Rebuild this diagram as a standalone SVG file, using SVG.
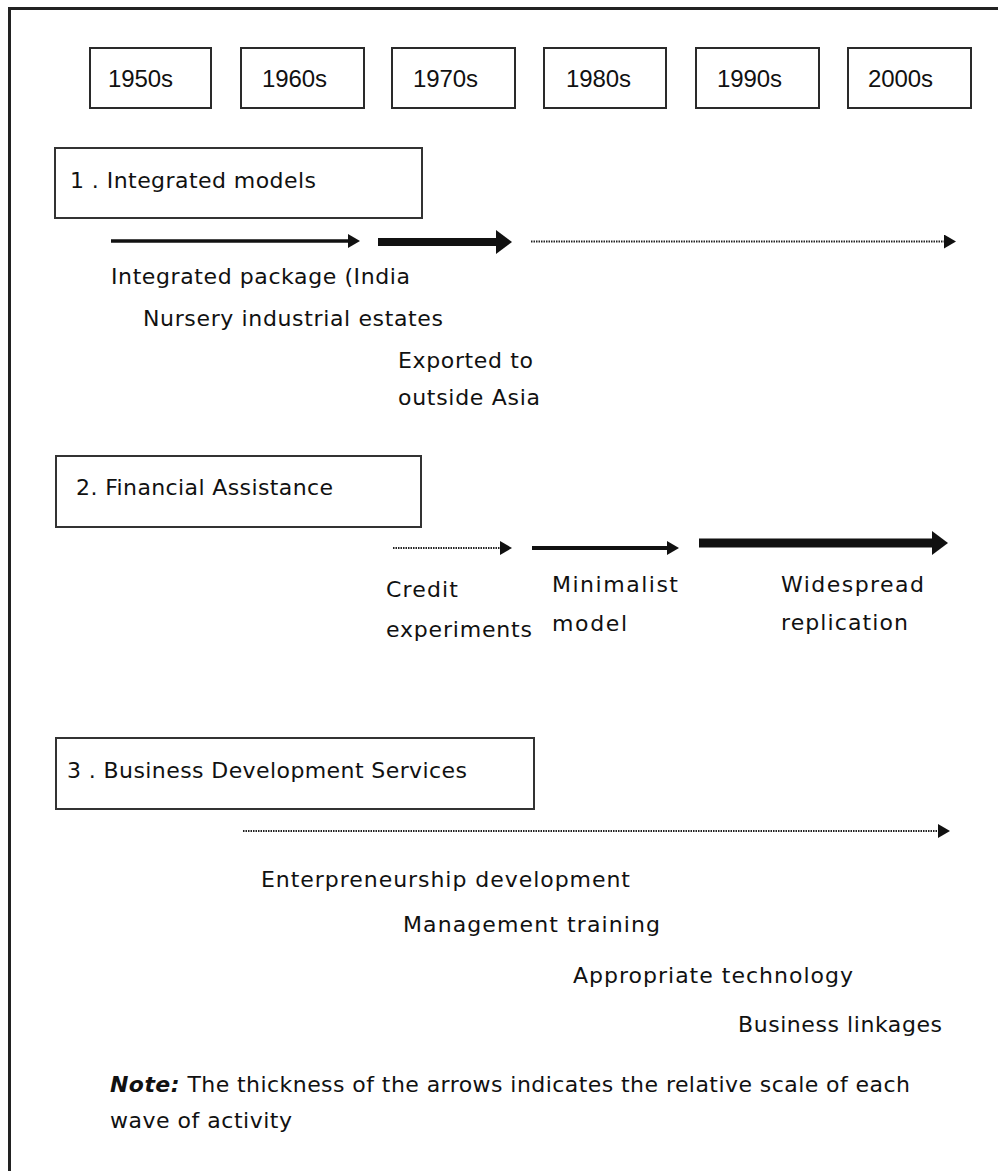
<svg xmlns="http://www.w3.org/2000/svg" width="998" height="1171" viewBox="0 0 998 1171">
<style>
  .frame{fill:none;stroke:#222;stroke-width:3}
  .ybox{fill:#fff;stroke:#2a2a2a;stroke-width:2}
  .sbox{fill:#fff;stroke:#333;stroke-width:2}
  text{font-family:"DejaVu Sans","Liberation Sans",sans-serif;fill:#111;font-size:22px}
  .yr{font-family:"Liberation Sans","DejaVu Sans",sans-serif;font-size:24px}
  .solid{fill:none;stroke:#111}
  .dot{fill:none;stroke:#222;stroke-width:2;stroke-dasharray:1.5 1}
</style>
<defs>
  <marker id="hs" viewBox="0 -7 12 14" markerWidth="12" markerHeight="14" refX="1" refY="0" orient="auto" markerUnits="userSpaceOnUse">
    <path d="M0,-7 L12,0 L0,7 Z" fill="#111"/>
  </marker>
  <marker id="hl" viewBox="0 -12 16 24" markerWidth="16" markerHeight="24" refX="1" refY="0" orient="auto" markerUnits="userSpaceOnUse">
    <path d="M0,-12 L16,0 L0,12 Z" fill="#111"/>
  </marker>
</defs>
<rect width="998" height="1171" fill="#fff"/>
<path class="frame" d="M9.5,1171 V8.5 H998"/>

<g id="y1950"><rect class="ybox" x="90" y="48" width="121" height="60"/><text class="yr" x="108" y="87" textLength="65">1950s</text></g>
<g id="y1960"><rect class="ybox" x="241" y="48" width="123" height="60"/><text class="yr" x="262" y="87" textLength="65">1960s</text></g>
<g id="y1970"><rect class="ybox" x="392" y="48" width="123" height="60"/><text class="yr" x="413" y="87" textLength="65">1970s</text></g>
<g id="y1980"><rect class="ybox" x="544" y="48" width="122" height="60"/><text class="yr" x="566" y="87" textLength="65">1980s</text></g>
<g id="y1990"><rect class="ybox" x="696" y="48" width="123" height="60"/><text class="yr" x="717" y="87" textLength="65">1990s</text></g>
<g id="y2000"><rect class="ybox" x="848" y="48" width="123" height="60"/><text class="yr" x="868" y="87" textLength="65">2000s</text></g>

<g id="sec1"><rect class="sbox" x="55" y="148" width="367" height="70"/><text x="70" y="188" textLength="246">1 . Integrated models</text></g>
<g id="sec2"><rect class="sbox" x="56" y="456" width="365" height="71"/><text x="76" y="495" textLength="257">2. Financial Assistance</text></g>
<g id="sec3"><rect class="sbox" x="56" y="738" width="478" height="71"/><text x="67" y="778" textLength="400">3 . Business Development Services</text></g>

<g id="connectors">
  <path class="solid" stroke-width="3.5" d="M111,241 H349" marker-end="url(#hs)"/>
  <path class="solid" stroke-width="8" d="M378,242 H497" marker-end="url(#hl)"/>
  <path class="dot" d="M531,241.5 H945" marker-end="url(#hs)"/>
  <path class="dot" d="M393,548 H501" marker-end="url(#hs)"/>
  <path class="solid" stroke-width="4" d="M532,548 H668" marker-end="url(#hs)"/>
  <path class="solid" stroke-width="9" d="M699,543 H933" marker-end="url(#hl)"/>
  <path class="dot" d="M243,831 H939" marker-end="url(#hs)"/>
</g>

<g id="labels1">
  <text x="111" y="284" textLength="299">Integrated package (India</text>
  <text x="143" y="326" textLength="300">Nursery industrial estates</text>
  <text x="398" y="368" textLength="135">Exported to</text>
  <text x="398" y="405" textLength="142">outside Asia</text>
</g>
<g id="labels2">
  <text x="386" y="597" textLength="72">Credit</text>
  <text x="386" y="637" textLength="146">experiments</text>
  <text x="552" y="592" textLength="126">Minimalist</text>
  <text x="552" y="631" textLength="75">model</text>
  <text x="781" y="592" textLength="143">Widespread</text>
  <text x="781" y="630" textLength="127">replication</text>
</g>
<g id="labels3">
  <text x="261" y="887" textLength="369">Enterpreneurship development</text>
  <text x="403" y="932" textLength="257">Management training</text>
  <text x="573" y="983" textLength="280">Appropriate technology</text>
  <text x="738" y="1032" textLength="204">Business linkages</text>
</g>
<g id="note">
  <text x="110" y="1092" textLength="800"><tspan font-weight="bold" font-style="italic">Note:</tspan> The thickness of the arrows indicates the relative scale of each</text>
  <text x="110" y="1128" textLength="182">wave of activity</text>
</g>
</svg>
